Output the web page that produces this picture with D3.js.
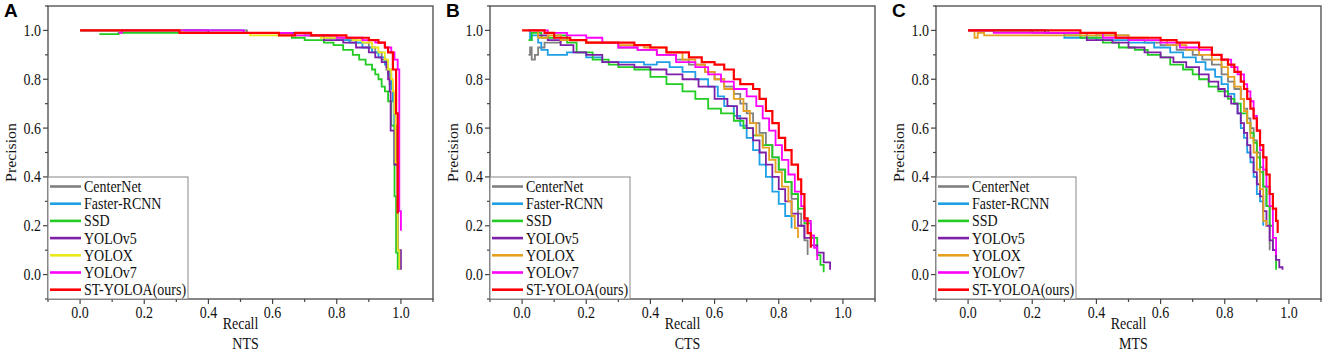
<!DOCTYPE html>
<html lang="en">
<head>
    <meta charset="UTF-8">
    <title>PR curves NTS / CTS / MTS</title>
    <script src="https://d3js.org/d3.v7.min.js"></script>
    <style>
        body { margin: 0; background: #fff; }
        svg { display: block; }
        .tick-label, .axis-title, .legend-text, .sub-title {
            font-family: "Liberation Serif", "Times New Roman", serif;
            fill: #111;
        }
        .tick-label { font-size: 14px; }
        .axis-title { font-size: 14px; }
        .sub-title { font-size: 14px; }
        .legend-text { font-size: 14px; }
        .panel-letter {
            font-family: "Liberation Sans", Arial, sans-serif;
            font-weight: bold;
            font-size: 19px;
        }
    </style>
</head>
<body>
<svg id="chart" width="1325" height="358"></svg>
<script>
    var models = ["CenterNet", "Faster-RCNN", "SSD", "YOLOv5", "YOLOX", "YOLOv7", "ST-YOLOA(ours)"];
    var panelLetters = ["A", "B", "C"];
    var panelNames = ["NTS", "CTS", "MTS"];
    var majorTicks = [0, 0.2, 0.4, 0.6, 0.8, 1.0];
    var minorTicks = [-0.1, 0.1, 0.3, 0.5, 0.7, 0.9, 1.1];

    // NTS  [recall, precision]
    var NTS_CenterNet = [[0,1],[0.5,1],[0.52,0.99],[0.7,0.99],[0.72,0.98],[0.78,0.97],[0.82,0.96],[0.86,0.95],[0.9,0.93],[0.92,0.91],[0.94,0.88],[0.955,0.84],[0.965,0.78],[0.975,0.72],[0.98,0.61],[0.985,0.45],[0.99,0.1],[0.995,0.02]];
    var NTS_Faster = [[0,1],[0.5,1],[0.51,0.99],[0.7,0.98],[0.76,0.97],[0.8,0.96],[0.84,0.95],[0.88,0.93],[0.91,0.91],[0.93,0.89],[0.95,0.86],[0.96,0.82],[0.97,0.76],[0.975,0.71],[0.98,0.45],[0.99,0.1],[0.995,0.02]];
    var NTS_SSD = [[0.06,0.985],[0.12,0.99],[0.5,0.99],[0.66,0.97],[0.7,0.96],[0.76,0.95],[0.79,0.94],[0.82,0.92],[0.85,0.9],[0.87,0.88],[0.89,0.86],[0.91,0.84],[0.92,0.82],[0.93,0.8],[0.94,0.77],[0.95,0.75],[0.96,0.71],[0.97,0.61],[0.98,0.32],[0.985,0.09],[0.99,0.02]];
    var NTS_YOLOv5 = [[0,1],[0.32,1],[0.4,0.99],[0.7,0.98],[0.76,0.96],[0.82,0.95],[0.86,0.93],[0.9,0.91],[0.92,0.89],[0.94,0.87],[0.955,0.85],[0.96,0.8],[0.965,0.75],[0.968,0.59],[0.98,0.45],[0.99,0.1],[1.0,0.02]];
    var NTS_YOLOX = [[0,1],[0.32,0.99],[0.53,0.98],[0.75,0.97],[0.85,0.96],[0.88,0.95],[0.91,0.93],[0.93,0.91],[0.95,0.88],[0.96,0.84],[0.97,0.8],[0.975,0.75],[0.98,0.66],[0.983,0.46],[0.99,0.1],[0.995,0.02]];
    var NTS_YOLOv7 = [[0.12,0.99],[0.13,1],[0.5,1],[0.51,0.99],[0.63,0.99],[0.66,0.98],[0.8,0.97],[0.88,0.96],[0.92,0.95],[0.95,0.93],[0.97,0.91],[0.98,0.88],[0.99,0.84],[0.995,0.26],[1.0,0.18]];
    var NTS_STYOLOA = [[0,1],[0.31,0.99],[0.62,0.98],[0.67,0.99],[0.72,0.98],[0.83,0.97],[0.9,0.96],[0.93,0.95],[0.95,0.93],[0.96,0.91],[0.975,0.84],[0.985,0.66],[0.99,0.25]];

    // CTS
    var CTS_CenterNet = [[0.02,0.9],[0.025,0.93],[0.03,0.88],[0.04,0.9],[0.05,0.93],[0.07,0.95],[0.12,0.96],[0.2,0.95],[0.3,0.93],[0.36,0.92],[0.42,0.9],[0.48,0.88],[0.52,0.86],[0.57,0.83],[0.6,0.8],[0.63,0.77],[0.66,0.74],[0.68,0.7],[0.7,0.66],[0.72,0.62],[0.74,0.58],[0.76,0.53],[0.78,0.48],[0.8,0.43],[0.82,0.38],[0.84,0.31],[0.86,0.25],[0.87,0.2],[0.88,0.14],[0.89,0.08]];
    var CTS_Faster = [[0.02,1],[0.025,0.96],[0.03,0.98],[0.05,0.95],[0.06,0.92],[0.08,0.9],[0.14,0.91],[0.2,0.89],[0.25,0.87],[0.32,0.87],[0.38,0.86],[0.42,0.87],[0.46,0.85],[0.5,0.83],[0.54,0.8],[0.58,0.77],[0.61,0.73],[0.63,0.69],[0.66,0.65],[0.68,0.61],[0.7,0.56],[0.72,0.51],[0.74,0.45],[0.76,0.4],[0.78,0.34],[0.8,0.29],[0.82,0.24],[0.84,0.19]];
    var CTS_SSD = [[0.02,0.96],[0.03,0.99],[0.06,0.97],[0.1,0.98],[0.14,0.95],[0.17,0.91],[0.22,0.88],[0.27,0.86],[0.3,0.85],[0.35,0.84],[0.4,0.81],[0.45,0.78],[0.5,0.75],[0.54,0.72],[0.58,0.68],[0.62,0.66],[0.66,0.63],[0.69,0.6],[0.72,0.57],[0.75,0.53],[0.78,0.48],[0.8,0.43],[0.82,0.38],[0.84,0.33],[0.86,0.27],[0.88,0.21],[0.9,0.15],[0.92,0.08],[0.93,0.04],[0.94,0.01]];
    var CTS_YOLOv5 = [[0.05,0.98],[0.08,0.96],[0.12,0.94],[0.16,0.91],[0.2,0.9],[0.25,0.87],[0.3,0.86],[0.35,0.85],[0.4,0.84],[0.45,0.82],[0.5,0.8],[0.55,0.77],[0.6,0.72],[0.64,0.69],[0.67,0.64],[0.7,0.6],[0.72,0.55],[0.74,0.5],[0.76,0.45],[0.78,0.4],[0.8,0.35],[0.82,0.3],[0.84,0.25],[0.86,0.2],[0.88,0.15],[0.9,0.12],[0.92,0.09],[0.94,0.05],[0.96,0.02]];
    var CTS_YOLOX = [[0.03,1],[0.05,0.97],[0.08,0.98],[0.12,0.96],[0.2,0.95],[0.3,0.94],[0.38,0.93],[0.45,0.91],[0.5,0.88],[0.54,0.86],[0.57,0.83],[0.6,0.8],[0.63,0.76],[0.66,0.72],[0.69,0.67],[0.71,0.62],[0.73,0.57],[0.75,0.52],[0.77,0.47],[0.79,0.42],[0.81,0.36],[0.83,0.3],[0.84,0.24],[0.85,0.19],[0.86,0.15]];
    var CTS_YOLOv7 = [[0.02,1],[0.08,0.99],[0.14,0.98],[0.2,0.97],[0.25,0.95],[0.3,0.93],[0.36,0.92],[0.42,0.9],[0.48,0.87],[0.54,0.85],[0.58,0.82],[0.62,0.79],[0.66,0.76],[0.7,0.73],[0.73,0.69],[0.75,0.64],[0.77,0.59],[0.79,0.53],[0.81,0.47],[0.83,0.41],[0.85,0.34],[0.87,0.28],[0.88,0.22],[0.9,0.16],[0.91,0.11],[0.92,0.06]];
    var CTS_STYOLOA = [[0,1],[0.07,0.99],[0.1,0.97],[0.15,0.96],[0.2,0.95],[0.3,0.95],[0.35,0.94],[0.4,0.93],[0.45,0.91],[0.52,0.89],[0.56,0.87],[0.6,0.86],[0.63,0.84],[0.66,0.8],[0.68,0.78],[0.72,0.76],[0.74,0.72],[0.76,0.67],[0.78,0.62],[0.8,0.56],[0.82,0.51],[0.84,0.45],[0.86,0.39],[0.87,0.33],[0.88,0.23],[0.89,0.17],[0.9,0.11]];

    // MTS
    var MTS_CenterNet = [[0,1],[0.2,0.99],[0.4,0.98],[0.5,0.96],[0.55,0.95],[0.6,0.94],[0.65,0.92],[0.7,0.9],[0.73,0.88],[0.76,0.86],[0.79,0.82],[0.81,0.79],[0.83,0.76],[0.85,0.72],[0.86,0.68],[0.87,0.64],[0.88,0.6],[0.89,0.55],[0.9,0.5],[0.91,0.44],[0.92,0.36],[0.93,0.28],[0.94,0.1]];
    var MTS_Faster = [[0,1],[0.25,0.99],[0.3,0.97],[0.4,0.96],[0.5,0.95],[0.58,0.93],[0.63,0.91],[0.67,0.89],[0.71,0.87],[0.74,0.84],[0.77,0.81],[0.79,0.78],[0.81,0.74],[0.83,0.7],[0.84,0.66],[0.85,0.6],[0.86,0.56],[0.87,0.5],[0.88,0.46],[0.89,0.4],[0.9,0.33],[0.91,0.3],[0.92,0.2]];
    var MTS_SSD = [[0.3,0.98],[0.35,0.97],[0.42,0.95],[0.47,0.93],[0.52,0.92],[0.56,0.9],[0.6,0.89],[0.63,0.86],[0.67,0.84],[0.7,0.82],[0.72,0.8],[0.75,0.77],[0.78,0.75],[0.81,0.72],[0.83,0.7],[0.85,0.66],[0.87,0.62],[0.88,0.58],[0.89,0.54],[0.9,0.48],[0.91,0.42],[0.92,0.36],[0.93,0.28],[0.94,0.2],[0.95,0.1],[0.96,0.02]];
    var MTS_YOLOv5 = [[0,1],[0.24,0.99],[0.37,0.96],[0.45,0.95],[0.5,0.93],[0.55,0.91],[0.6,0.89],[0.64,0.87],[0.68,0.85],[0.72,0.82],[0.75,0.79],[0.78,0.76],[0.8,0.73],[0.82,0.7],[0.84,0.66],[0.85,0.62],[0.86,0.58],[0.87,0.53],[0.88,0.48],[0.89,0.42],[0.9,0.37],[0.91,0.32],[0.92,0.26],[0.93,0.2],[0.94,0.14],[0.95,0.1],[0.96,0.06],[0.97,0.03],[0.98,0.02]];
    var MTS_YOLOX = [[0,1],[0.02,0.97],[0.03,0.99],[0.05,0.98],[0.4,0.98],[0.5,0.97],[0.56,0.96],[0.62,0.94],[0.68,0.92],[0.72,0.9],[0.76,0.88],[0.79,0.85],[0.81,0.81],[0.83,0.77],[0.85,0.72],[0.86,0.67],[0.87,0.62],[0.88,0.56],[0.89,0.5],[0.9,0.43],[0.91,0.35],[0.92,0.22],[0.93,0.2]];
    var MTS_YOLOv7 = [[0,1],[0.08,0.99],[0.41,0.99],[0.42,0.97],[0.5,0.96],[0.6,0.95],[0.66,0.93],[0.72,0.92],[0.76,0.9],[0.79,0.88],[0.82,0.85],[0.84,0.82],[0.86,0.78],[0.87,0.75],[0.88,0.71],[0.89,0.65],[0.9,0.59],[0.91,0.51],[0.92,0.43],[0.93,0.36],[0.94,0.28],[0.95,0.15],[0.96,0.08]];
    var MTS_STYOLOA = [[0,1],[0.2,1],[0.35,0.99],[0.46,0.97],[0.6,0.96],[0.65,0.95],[0.72,0.93],[0.76,0.9],[0.79,0.88],[0.81,0.86],[0.83,0.83],[0.85,0.79],[0.86,0.76],[0.87,0.72],[0.88,0.68],[0.89,0.64],[0.9,0.59],[0.91,0.53],[0.92,0.48],[0.93,0.41],[0.94,0.33],[0.95,0.27],[0.96,0.22],[0.965,0.17]];

    var panelSeries = [
        [NTS_CenterNet, NTS_Faster, NTS_SSD, NTS_YOLOv5, NTS_YOLOX, NTS_YOLOv7, NTS_STYOLOA],
        [CTS_CenterNet, CTS_Faster, CTS_SSD, CTS_YOLOv5, CTS_YOLOX, CTS_YOLOv7, CTS_STYOLOA],
        [MTS_CenterNet, MTS_Faster, MTS_SSD, MTS_YOLOv5, MTS_YOLOX, MTS_YOLOv7, MTS_STYOLOA]
    ];

    var baseColors = ["#808080", "#1e9fe6", "#22cc22", "#7d1fa8", "#e6a020", "#ff00ff", "#ff0000"];
    var yoloxColors = ["#e8e81c", "#e6a020", "#e6a020"];

    var panelLeft = [48, 490, 936];
    var plotTop = 6, w = 385, h = 293;
    var stretch = 1.13;  // the source figure's text is a bit taller than wide

    var svg = d3.select("#chart");

    var x = d3.scaleLinear().domain([-0.1, 1.1]).range([0, w]);
    var y = d3.scaleLinear().domain([-0.1, 1.1]).range([h, 0]);

    var line = d3.line()
        .x(function(d) { return x(d[0]); })
        .y(function(d) { return y(d[1]); })
        .curve(d3.curveStepAfter);

    function tallText(parent, cls, tx, ty, anchor, str) {
        return parent.append("text")
            .attr("class", cls)
            .attr("transform", "translate(" + tx + "," + ty + ") scale(1," + stretch + ")")
            .attr("text-anchor", anchor)
            .text(str);
    }

    panelSeries.forEach(function(series, p) {
        var g = svg.append("g")
            .attr("transform", "translate(" + panelLeft[p] + "," + plotTop + ")");
        var colors = baseColors.slice();
        colors[4] = yoloxColors[p];

        // curves
        series.forEach(function(s, i) {
            g.append("path")
                .datum(s)
                .attr("fill", "none")
                .attr("stroke", colors[i])
                .attr("stroke-width", i == 6 ? 2.2 : 1.8)
                .attr("d", line);
        });

        // frame
        g.append("rect")
            .attr("width", w).attr("height", h)
            .attr("fill", "none")
            .attr("stroke", "#555")
            .attr("stroke-width", 1.4);

        // bottom axis
        var xAxis = g.append("g").attr("transform", "translate(0," + h + ")");
        xAxis.selectAll(".maj").data(majorTicks).enter().append("line")
            .attr("x1", x).attr("x2", x).attr("y1", 0).attr("y2", 5)
            .attr("stroke", "#444").attr("stroke-width", 1.2);
        xAxis.selectAll(".min").data(minorTicks).enter().append("line")
            .attr("x1", x).attr("x2", x).attr("y1", 0).attr("y2", 3)
            .attr("stroke", "#444").attr("stroke-width", 1.2);
        majorTicks.forEach(function(t) {
            tallText(xAxis, "tick-label", x(t), 18.5, "middle", d3.format(".1f")(t));
        });

        // left axis
        var yAxis = g.append("g");
        yAxis.selectAll(".maj").data(majorTicks).enter().append("line")
            .attr("y1", y).attr("y2", y).attr("x1", 0).attr("x2", -5)
            .attr("stroke", "#444").attr("stroke-width", 1.2);
        yAxis.selectAll(".min").data(minorTicks).enter().append("line")
            .attr("y1", y).attr("y2", y).attr("x1", 0).attr("x2", -3)
            .attr("stroke", "#444").attr("stroke-width", 1.2);
        majorTicks.forEach(function(t) {
            tallText(yAxis, "tick-label", -7, y(t) + 5.5, "end", d3.format(".1f")(t));
        });

        g.append("text")
            .attr("class", "axis-title")
            .attr("transform", "translate(-32," + (h / 2) + ") rotate(-90) scale(" + stretch + ",1)")
            .attr("text-anchor", "middle")
            .text("Precision");

        tallText(g, "axis-title", w / 2, h + 30, "middle", "Recall");
        tallText(g, "sub-title", w / 2 + 5, h + 50, "middle", panelNames[p]);

        svg.append("text")
            .attr("class", "panel-letter")
            .attr("x", panelLeft[p] - 44).attr("y", 17)
            .text(panelLetters[p]);

        // legend
        var lg = g.append("g").attr("transform", "translate(0," + (h - 122) + ")");
        lg.append("rect")
            .attr("width", 140).attr("height", 122)
            .attr("fill", "#fff")
            .attr("stroke", "#888").attr("stroke-width", 1);
        models.forEach(function(m, i) {
            var yy = 9.5 + i * 17.2;
            lg.append("line")
                .attr("x1", 2).attr("x2", 33).attr("y1", yy).attr("y2", yy)
                .attr("stroke", colors[i]).attr("stroke-width", 2.6);
            tallText(lg, "legend-text", 36, yy + 5.5, "start", m);
        });
    });
</script>
</body>
</html>
